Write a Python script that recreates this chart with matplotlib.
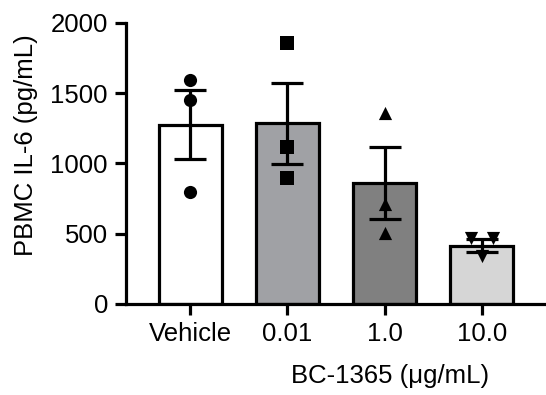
import numpy as np
import matplotlib.pyplot as plt

plt.rcParams['font.family'] = ['Liberation Sans', 'DejaVu Sans']

groups = ['Vehicle', '0.01', '1.0', '10.0']
means = [1275, 1285, 860, 415]
sem = [245, 287, 256, 48]
points = [
    [1595, 1452, 797],
    [1858, 1120, 895],
    [1362, 710, 508],
    [472, 340, 472],
]
offsets = [
    [0, 0, 0],
    [0, 0, 0],
    [0, 0, 0],
    [-0.11, 0, 0.11],
]
markers = ['o', 's', '^', 'v']
colors = ['white', '#a0a1a5', '#808080', '#d6d6d6']

fig = plt.figure(figsize=(5.46, 3.95), dpi=100)
ax = fig.add_axes([0.2308, 0.2304, 0.7692, 0.7114])

x = np.arange(len(groups))
lw = 2.3
ax.bar(x, means, width=0.65, color=colors, edgecolor='black', linewidth=lw, zorder=1)
ax.errorbar(x, means, yerr=sem, fmt='none', ecolor='black', elinewidth=lw,
            capsize=11.5, capthick=lw, zorder=2)
for i in range(len(groups)):
    ax.scatter(x[i] + np.array(offsets[i]), points[i], marker=markers[i],
               s=90, color='black', zorder=3, linewidths=0)

ax.set_xlim(-0.66, 3.66)
ax.set_ylim(0, 2000)
ax.set_yticks([0, 500, 1000, 1500, 2000])
ax.set_xticks(x)
ax.set_xticklabels(groups)

for s in ['top', 'right']:
    ax.spines[s].set_visible(False)
for s in ['left', 'bottom']:
    ax.spines[s].set_linewidth(lw)
ax.tick_params(axis='both', length=8, width=lw, labelsize=18.5, pad=5)

ax.set_ylabel('PBMC IL-6 (pg/mL)', fontsize=18.5)
ax.yaxis.set_label_coords(-0.21, 0.566)
ax.set_xlabel('BC-1365 (μg/mL)', fontsize=18.5)
ax.xaxis.set_label_coords(0.629, -0.215)

fig.savefig('out.png', dpi=100)
